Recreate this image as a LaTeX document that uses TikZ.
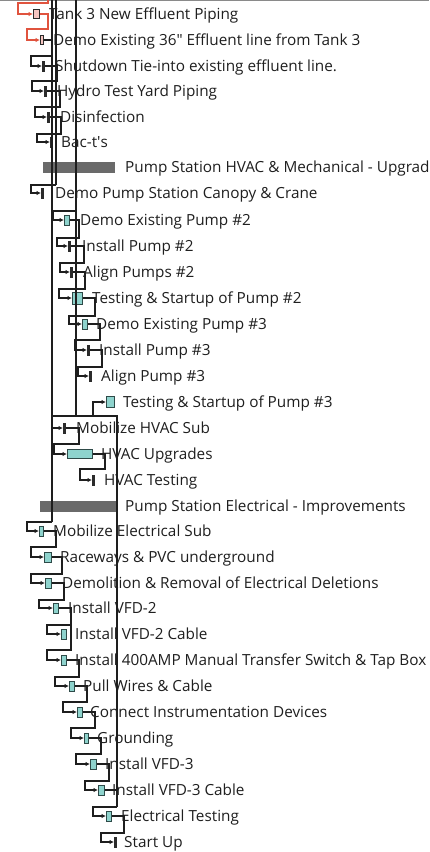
\documentclass[tikz,border=0pt]{standalone}
\usepackage{fontspec}
\setmainfont{Open Sans}
\usetikzlibrary{arrows.meta}
\definecolor{tealfill}{HTML}{8ED3CD}
\definecolor{tealline}{HTML}{2E4A48}
\definecolor{darkbar}{HTML}{2B2B2B}
\definecolor{pinkfill}{HTML}{F5C4C0}
\definecolor{redline}{HTML}{E0533E}
\definecolor{sumgray}{HTML}{6A6A6A}
\definecolor{linkc}{HTML}{1E1E1E}
\definecolor{topline}{HTML}{8A8A8A}
\begin{document}
\begin{tikzpicture}[x=1pt,y=-1pt,
  link/.style={draw=linkc, line width=1.1pt},
  rlink/.style={draw=redline, line width=1.1pt},
  tip/.style={-{Latex[length=4.5pt,width=4.5pt]}},
  tb/.style={draw=tealline, fill=tealfill, line width=0.9pt, minimum height=10pt, inner sep=0pt, anchor=west},
  db/.style={fill=darkbar, minimum width=3pt, minimum height=11pt, inner sep=0pt, anchor=west},
  pb/.style={draw=darkbar, fill=pinkfill, line width=0.9pt, minimum height=9pt, inner sep=0pt, anchor=west},
  sb/.style={fill=sumgray, minimum height=11pt, inner sep=0pt, anchor=west},
  lbl/.style={anchor=base west, inner sep=0pt, font=\fontsize{15.3}{18}\selectfont, text=black!88}]
\useasboundingbox (0,0) rectangle (429,852);
\clip (0,0) rectangle (429,852);
\fill[white] (0,0) rectangle (429,852);
\draw[topline, line width=1pt] (0,0.5) -- (429,0.5);

% ---------- bars ----------
\node[pb, minimum width=6pt] (b1) at (33,14) {};
\node[pb, minimum width=3pt] (b2) at (40,40) {};
\node[db] (b3) at (42,66) {};
\node[db] (b4) at (44,91) {};
\node[db] (b5) at (47,117) {};
\node[db] (b6) at (50,142) {};
\node[sb, minimum width=72pt] (b7) at (43,167) {};
\node[db] (b8) at (41,193) {};
\node[tb, minimum width=5pt] (b9) at (64,220) {};
\node[db] (b10) at (68,246) {};
\node[db] (b11) at (70,272) {};
\node[tb, minimum width=10pt, minimum height=12pt] (b12) at (72,298) {};
\node[tb, minimum width=5pt] (b13) at (82,324) {};
\node[db] (b14) at (87,350) {};
\node[db] (b15) at (89,376) {};
\node[tb, minimum width=8pt, minimum height=11pt] (b16) at (106,402) {};
\node[db] (b17) at (63,428) {};
\node[tb, minimum width=25pt, minimum height=9pt] (b18) at (67,454) {};
\node[db] (b19) at (92,480) {};
\node[sb, minimum width=76pt] (b20) at (40,506) {};
\node[tb, minimum width=4pt] (b21) at (39,531) {};
\node[tb, minimum width=7pt] (b22) at (44,557) {};
\node[tb, minimum width=6pt] (b23) at (45,583) {};
\node[tb, minimum width=5pt] (b24) at (53,608) {};
\node[tb, minimum width=5pt] (b25) at (61,634) {};
\node[tb, minimum width=5pt] (b26) at (61,660) {};
\node[tb, minimum width=5pt] (b27) at (69,686) {};
\node[tb, minimum width=5pt] (b28) at (77,712) {};
\node[tb, minimum width=4pt] (b29) at (84,738) {};
\node[tb, minimum width=6pt] (b30) at (90,764) {};
\node[tb, minimum width=6pt] (b31) at (98,790) {};
\node[tb, minimum width=5pt] (b32) at (106,816) {};
\node[db] (b33) at (114,842) {};

% ---------- long connector trunks ----------
\coordinate (v1top) at (52,0);
\coordinate (v1bot) at (52,522);
\coordinate (v1btop) at (56,0);
\coordinate (v2top) at (76,0);
\coordinate (hb1) at (52,416);
\coordinate (hb2) at (117,416);
\coordinate (v3bot) at (117,807);
\draw[link] (v1top) -- (v1bot);
\draw[link] (v1btop) -- (56,185);
\draw[link] (v2top) -- (76,416);
\draw[link] (hb1) -- (hb2) -- (v3bot);

% ---------- red links ----------
\draw[rlink, tip] (48,0) -- (48,3) -- (18,3) -- (18,14) -- (b1.west);
\draw[rlink, tip] (b1.east) -- (48,14) -- (48,29) -- (27,29) -- (27,40) -- (b2.west);

% ---------- black links ----------
\draw[link, tip] (b2.east) -- (52,40) -- (52,56) -- (31,56) -- (31,66) -- (b3.west);
\draw[link, tip] (b3.east) -- (57,66) -- (57,81) -- (32,81) -- (32,91) -- (b4.west);
\draw[link, tip] (b4.east) -- (60,91) -- (60,107) -- (35,107) -- (35,117) -- (b5.west);
\draw[link, tip] (b5.east) -- (61,117) -- (61,134) -- (37,134) -- (37,142) -- (b6.west);
\draw[link, tip] (56,185) -- (31,185) -- (31,193) -- (b8.west);
\draw[link, tip] (76,211) -- (53,211) -- (53,220) -- (b9.west);
\draw[link, tip] (b9.east) -- (79,220) -- (79,238) -- (57,238) -- (57,246) -- (b10.west);
\draw[link, tip] (b10.east) -- (84,246) -- (84,263) -- (60,263) -- (60,272) -- (b11.west);
\draw[link, tip] (b11.east) -- (85,272) -- (85,289) -- (59,289) -- (59,298) -- (b12.west);
\draw[link, tip] (b12.east) -- (95,298) -- (95,316) -- (69,316) -- (69,324) -- (b13.west);
\draw[link, tip] (b13.east) -- (100,324) -- (100,340) -- (75,340) -- (75,350) -- (b14.west);
\draw[link, tip] (b14.east) -- (102,350) -- (102,367) -- (78,367) -- (78,376) -- (b15.west);
\draw[link, tip] (93,416) -- (93,402) -- (b16.west);
\draw[link, tip] (52,428) -- (b17.west);
\draw[link, tip] (b17.east) -- (79,428) -- (79,444) -- (54,444) -- (54,454) -- (b18.west);
\draw[link, tip] (b18.east) -- (105,454) -- (105,469) -- (80,469) -- (80,480) -- (b19.west);
\draw[link, tip] (v1bot) -- (27,522) -- (27,531) -- (b21.west);
\draw[link, tip] (b21.east) -- (56,531) -- (56,547) -- (31,547) -- (31,557) -- (b22.west);
\draw[link, tip] (b22.east) -- (62,557) -- (62,574) -- (31,574) -- (31,583) -- (b23.west);
\draw[link, tip] (b23.east) -- (64,583) -- (64,600) -- (39,600) -- (39,608) -- (b24.west);
\draw[link, tip] (b24.east) -- (71,608) -- (71,625) -- (47,625) -- (47,634) -- (b25.west);
\draw[link, tip] (71,625) -- (71,650) -- (47,650) -- (47,660) -- (b26.west);
\draw[link, tip] (b26.east) -- (79,660) -- (79,677) -- (55,677) -- (55,686) -- (b27.west);
\draw[link, tip] (b27.east) -- (87,686) -- (87,702) -- (63,702) -- (63,712) -- (b28.west);
\draw[link, tip] (b28.east) -- (95,712) -- (95,728) -- (71,728) -- (71,738) -- (b29.west);
\draw[link, tip] (b29.east) -- (101,738) -- (101,754) -- (76,754) -- (76,764) -- (b30.west);
\draw[link, tip] (b30.east) -- (109,764) -- (109,781) -- (85,781) -- (85,790) -- (b31.west);
\draw[link] (b31.east) -- (117,790);
\draw[link, tip] (v3bot) -- (93,807) -- (93,816) -- (b32.west);
\draw[link, tip] (b32.east) -- (124,816) -- (124,833) -- (101,833) -- (101,842) -- (b33.west);

% ---------- labels ----------
\node[lbl] (t1) at (49,19.5) {Tank 3 New Effluent Piping};
\node[lbl] (t2) at (53,45.5) {Demo Existing 36\textquotedbl{} Effluent line from Tank 3};
\node[lbl] (t3) at (55,71.5) {Shutdown Tie-into existing effluent line.};
\node[lbl] (t4) at (57,96.5) {Hydro Test Yard Piping};
\node[lbl] (t5) at (60,122.5) {Disinfection};
\node[lbl] (t6) at (61,147.5) {Bac-t\textquotesingle{}s};
\node[lbl] (t7) at (125,172.5) {Pump Station HVAC \& Mechanical - Upgrade};
\node[lbl] (t8) at (55,198.5) {Demo Pump Station Canopy \& Crane};
\node[lbl] (t9) at (80,225.5) {Demo Existing Pump \#2};
\node[lbl] (t10) at (82,251.5) {Install Pump \#2};
\node[lbl] (t11) at (83,277.5) {Align Pumps \#2};
\node[lbl] (t12) at (92,303.5) {Testing \& Startup of Pump \#2};
\node[lbl] (t13) at (96,329.5) {Demo Existing Pump \#3};
\node[lbl] (t14) at (99,355.5) {Install Pump \#3};
\node[lbl] (t15) at (101,381.5) {Align Pump \#3};
\node[lbl] (t16) at (123,407.5) {Testing \& Startup of Pump \#3};
\node[lbl] (t17) at (76,433.5) {Mobilize HVAC Sub};
\node[lbl] (t18) at (101,459.5) {HVAC Upgrades};
\node[lbl] (t19) at (104,485.5) {HVAC Testing};
\node[lbl] (t20) at (125,511.5) {Pump Station Electrical - Improvements};
\node[lbl] (t21) at (53,536.5) {Mobilize Electrical Sub};
\node[lbl] (t22) at (60,562.5) {Raceways \& PVC underground};
\node[lbl] (t23) at (62,588.5) {Demolition \& Removal of Electrical Deletions};
\node[lbl] (t24) at (68,613.5) {Install VFD-2};
\node[lbl] (t25) at (75,639.5) {Install VFD-2 Cable};
\node[lbl] (t26) at (75,665.5) {Install 400AMP Manual Transfer Switch \& Tap Box};
\node[lbl] (t27) at (83,691.5) {Pull Wires \& Cable};
\node[lbl] (t28) at (90,717.5) {Connect Instrumentation Devices};
\node[lbl] (t29) at (97,743.5) {Grounding};
\node[lbl] (t30) at (105,769.5) {Install VFD-3};
\node[lbl] (t31) at (112,795.5) {Install VFD-3 Cable};
\node[lbl] (t32) at (121,821.5) {Electrical Testing};
\node[lbl] (t33) at (124,847.5) {Start Up};
\end{tikzpicture}
\end{document}
